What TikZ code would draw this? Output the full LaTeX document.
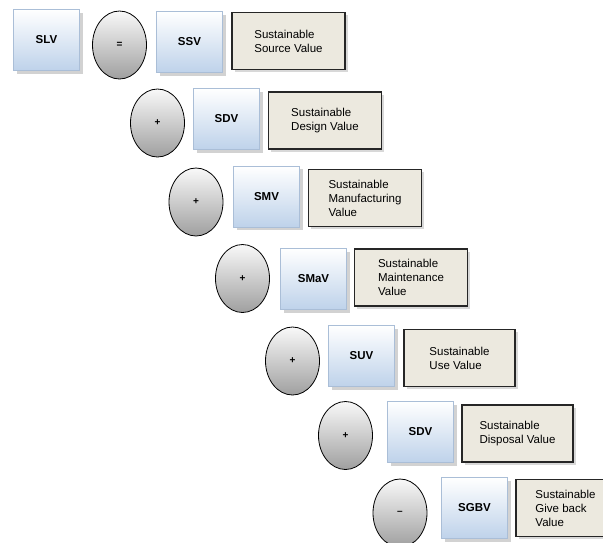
\documentclass[tikz,border=0pt]{standalone}
\usepackage{fontspec}
\setmainfont{Liberation Sans}
\usepackage{tikz}
\usetikzlibrary{shapes.geometric,shadows}

\definecolor{boxblue}{RGB}{190,210,234}
\definecolor{boxedge}{RGB}{170,190,215}
\definecolor{notefill}{RGB}{236,233,223}

\tikzset{
    valbox/.style={draw=boxedge, top color=white, bottom color=boxblue,
        minimum width=66pt, minimum height=61pt,
        font=\fontsize{11.5}{13}\selectfont\bfseries,
        drop shadow={shadow xshift=3pt, shadow yshift=-3pt, fill=gray!70}},
    opball/.style={ellipse, draw=black, thick, top color=gray!5, bottom color=gray!75,
        minimum width=54pt, minimum height=68pt, inner sep=0pt,
        font=\fontsize{10}{12}\selectfont\bfseries},
    note/.style={draw=black!85, line width=1.3pt, fill=notefill, align=left,
        minimum width=113pt, minimum height=57pt,
        font=\fontsize{11.5}{14}\selectfont,
        drop shadow={shadow xshift=2.5pt, shadow yshift=-2.5pt, fill=gray!60}}
}

\begin{document}
\begin{tikzpicture}[x=1pt,y=-1pt]
    \clip (0,0) rectangle (603,542);
    \fill[white] (0,0) rectangle (603,542);

    \node[valbox] (slv) at (46.5,40) {SLV};
    \node[opball] (eq) at (119.5,45) {=};
    \node[valbox] (ssv) at (189.5,42) {SSV};
    \node[note] (ssvtxt) at (288.5,41) {Sustainable\\Source Value};

    \node[opball] (p1) at (157.5,123) {+};
    \node[valbox] (sdv) at (226.5,119) {SDV};
    \node[note] (sdvtxt) at (325,120.5) {Sustainable\\Design Value};

    \node[opball] (p2) at (196,202) {+};
    \node[valbox] (smv) at (266.5,196.5) {SMV};
    \node[note] (smvtxt) at (365,198) {Sustainable\\Manufacturing\\Value};

    \node[opball] (p3) at (242.5,278.5) {+};
    \node[valbox] (smav) at (313.5,279) {SMaV};
    \node[note] (smavtxt) at (411,277.5) {Sustainable\\Maintenance\\Value};

    \node[opball] (p4) at (292.5,361) {+};
    \node[valbox] (suv) at (361.5,356) {SUV};
    \node[note, minimum width=111pt] (suvtxt) at (459.5,358) {Sustainable\\Use Value};

    \node[opball] (p5) at (345.5,435.5) {+};
    \node[valbox] (sdiv) at (420.5,432) {SDV};
    \node[note, minimum width=111pt] (sdivtxt) at (517.5,433.5) {Sustainable\\Disposal Value};

    \node[opball] (m1) at (400,513) {--};
    \node[valbox] (sgbv) at (474.5,508) {SGBV};
    \node[note, minimum width=99pt] (sgbvtxt) at (565.5,508) {Sustainable\\Give back\\Value};
\end{tikzpicture}
\end{document}
